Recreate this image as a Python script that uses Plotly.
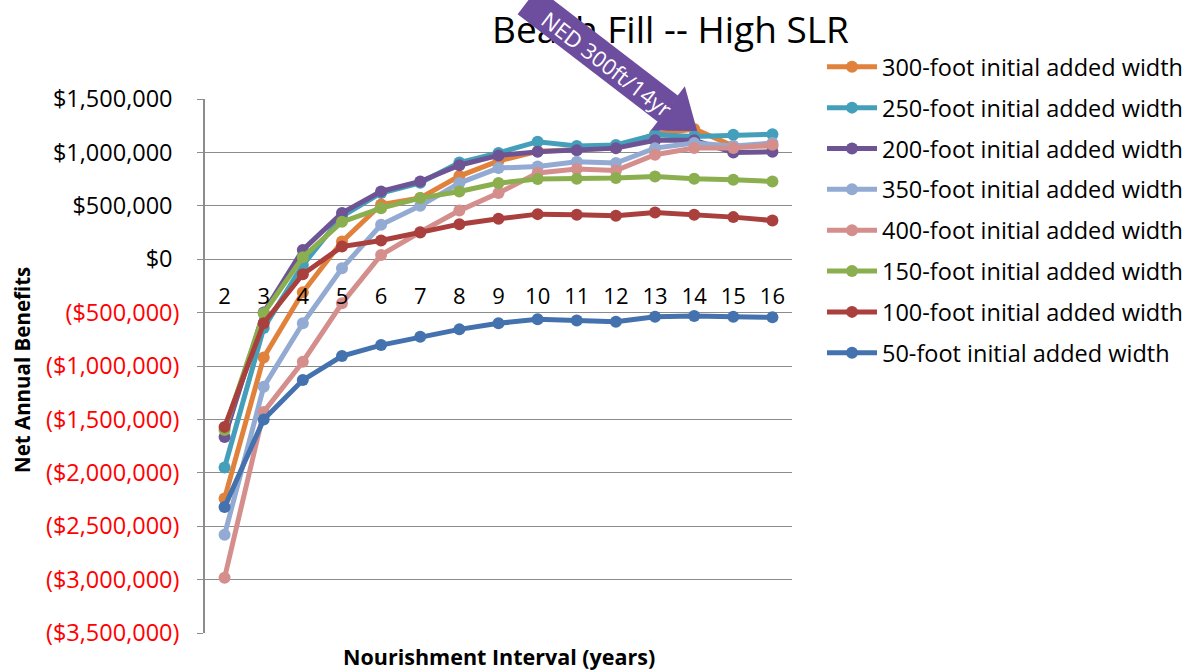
import math
import plotly.graph_objects as go

# Nourishment interval (years) on the category axis
intervals = [2, 3, 4, 5, 6, 7, 8, 9, 10, 11, 12, 13, 14, 15, 16]

# Net annual benefits ($) for each initial added beach width
ft300 = [-2240000, -920000, -310000, 165000, 512000, 574000, 778000, 920000,
         1010000, 1025000, 1040000, 1170000, 1220000, 1060000, 1060000]
ft250 = [-1950000, -645000, -55000, 400000, 620000, 715000, 905000, 995000,
         1100000, 1060000, 1070000, 1165000, 1150000, 1165000, 1170000]
ft200 = [-1665000, -500000, 87000, 433000, 635000, 728000, 880000, 972000,
         1005000, 1020000, 1040000, 1113000, 1113000, 1000000, 1005000]
ft350 = [-2580000, -1195000, -600000, -85000, 322000, 500000, 713000, 853000,
         869000, 912000, 900000, 1040000, 1088000, 1060000, 1088000]
ft400 = [-2983000, -1430000, -960000, -413000, 40000, 255000, 455000, 619000,
         807000, 844000, 831000, 978000, 1041000, 1041000, 1072000]
ft150 = [-1600000, -507000, 19000, 350000, 478000, 572000, 634000, 713000,
         750000, 753000, 760000, 775000, 753000, 744000, 728000]
ft100 = [-1570000, -600000, -141000, 118000, 175000, 250000, 328000, 378000,
         422000, 416000, 406000, 437000, 416000, 394000, 362000]
ft50 = [-2320000, -1500000, -1132000, -907000, -804000, -726000, -657000, -600000,
        -563000, -575000, -585000, -538000, -532000, -538000, -544000]

series_names = [
    "300-foot initial added width", "250-foot initial added width",
    "200-foot initial added width", "350-foot initial added width",
    "400-foot initial added width", "150-foot initial added width",
    "100-foot initial added width", "50-foot initial added width",
]
series_values = [ft300, ft250, ft200, ft350, ft400, ft150, ft100, ft50]
series_colors = ["#E0823C", "#44A0BA", "#6E5395", "#93AAD3",
                 "#D48F8D", "#8BAF4F", "#AA403D", "#4372AE"]

y_tick_values = [1500000, 1000000, 500000, 0, -500000, -1000000, -1500000,
                 -2000000, -2500000, -3000000, -3500000]

title_text = "Beach Fill -- High SLR"
callout_text = "NED 300ft/14yr"
x_title = "Nourishment Interval (years)"
y_title = "Net Annual Benefits"

FONT = "Open Sans"
W, H = 1196, 670
ML, MR, MT, MB = 205, 404, 99, 37
PW, PH = W - ML - MR, H - MT - MB
X_RANGE = [1.5, 16.5]
Y_RANGE = [-3500000, 1500000]


def money(v):
    # accounting style: negatives in red parentheses, positives padded
    # by an invisible ")" so the digits line up
    if v < 0:
        return "<span style='color:#ff0000'>(${:,.0f})</span>".format(abs(v))
    return "${:,.0f}<span style='color:rgba(0,0,0,0)'>)</span>".format(v)


def data_to_px(x, y):
    px = ML + (x - X_RANGE[0]) / (X_RANGE[1] - X_RANGE[0]) * PW
    py = MT + (Y_RANGE[1] - y) / (Y_RANGE[1] - Y_RANGE[0]) * PH
    return px, py


def px_to_paper(px, py):
    return (px - ML) / PW, (MT + PH - py) / PH


fig = go.Figure()
for name, vals, col in zip(series_names, series_values, series_colors):
    fig.add_trace(go.Scatter(
        x=intervals, y=vals, name=name, legendgroup=name,
        mode="lines+markers",
        line=dict(color=col, width=5),
        marker=dict(color=col, size=12),
    ))

# Callout arrow pointing at the 300-foot / 14-year optimum
tip_x, tip_y = data_to_px(14, ft300[intervals.index(14)])
tip_x += 3
tip_y += 2
ang = math.radians(37.5)
ux, uy = math.cos(ang), math.sin(ang)
nx, ny = -uy, ux
head_len, head_half, body_half = 37, 28, 16
bx, by = tip_x - head_len * ux, tip_y - head_len * uy
head_pts = [(tip_x, tip_y),
            (bx + head_half * nx, by + head_half * ny),
            (bx - head_half * nx, by - head_half * ny)]
path = "M " + " L ".join("{:.5f},{:.5f}".format(*px_to_paper(px, py)) for px, py in head_pts) + " Z"
arrow_color = "#6D4D9E"
fig.add_shape(type="path", path=path, xref="paper", yref="paper",
              fillcolor=arrow_color, line=dict(width=0), layer="above")

body_len = 176
body_cx, body_cy = bx - body_len / 2 * ux, by - body_len / 2 * uy
text_cx, text_cy = bx - 75 * ux + 1 * nx, by - 75 * uy + 1 * ny

annotations = [
    dict(text=title_text, xref="paper", yref="paper",
         x=px_to_paper(670, 0)[0], y=px_to_paper(0, 28)[1],
         xanchor="center", yanchor="middle", showarrow=False,
         font=dict(family=FONT, size=37, color="#000000")),
    dict(text=" ", xref="paper", yref="paper",
         x=px_to_paper(body_cx, 0)[0], y=px_to_paper(0, body_cy)[1],
         xanchor="center", yanchor="middle", showarrow=False,
         width=body_len, height=2 * body_half, borderpad=0,
         bgcolor=arrow_color, textangle=37.5),
    dict(text=callout_text, xref="paper", yref="paper",
         x=px_to_paper(text_cx, 0)[0], y=px_to_paper(0, text_cy)[1],
         xanchor="center", yanchor="middle", showarrow=False,
         textangle=37.5, font=dict(family=FONT, size=22, color="#FFFFFF")),
    dict(text="<b>" + x_title + "</b>", xref="paper", yref="paper",
         x=0.5, y=px_to_paper(0, 656)[1], xanchor="center", yanchor="middle",
         showarrow=False, font=dict(family=FONT, size=21.5, color="#000000")),
    dict(text="<b>" + y_title + "</b>", xref="paper", yref="paper",
         x=px_to_paper(22, 0)[0], y=px_to_paper(0, 370)[1],
         xanchor="center", yanchor="middle",
         showarrow=False, textangle=-90,
         font=dict(family=FONT, size=20.5, color="#000000")),
]

grid = "#8C8C8C"
fig.update_layout(
    width=W, height=H,
    margin=dict(l=ML, r=MR, t=MT, b=MB),
    paper_bgcolor="#FFFFFF", plot_bgcolor="#FFFFFF",
    font=dict(family=FONT, color="#000000"),
    showlegend=True,
    legend=dict(
        xref="container", yref="container",
        x=822 / W, y=1 - 45 / H, xanchor="left", yanchor="top",
        font=dict(family=FONT, size=23.5, color="#000000"),
        tracegroupgap=7.3, itemwidth=50, bgcolor="rgba(0,0,0,0)",
    ),
    xaxis=dict(
        range=X_RANGE, tickvals=intervals, ticktext=[str(v) for v in intervals],
        anchor="free", position=(0 - Y_RANGE[0]) / (Y_RANGE[1] - Y_RANGE[0]),
        showgrid=False, zeroline=False, showline=False, ticks="",
        ticklabelstandoff=22,
        tickfont=dict(family=FONT, size=22, color="#000000"),
    ),
    yaxis=dict(
        range=Y_RANGE, tickvals=y_tick_values,
        ticktext=[money(v) for v in y_tick_values],
        showgrid=True, gridcolor=grid, gridwidth=1.4, zeroline=False,
        showline=True, linecolor=grid, linewidth=1.6,
        ticks="outside", ticklen=6, tickcolor=grid, tickwidth=1.4,
        ticklabelstandoff=13,
        tickfont=dict(family=FONT, size=23.5, color="#000000"),
    ),
    annotations=annotations,
)

fig.write_html("out.html")
